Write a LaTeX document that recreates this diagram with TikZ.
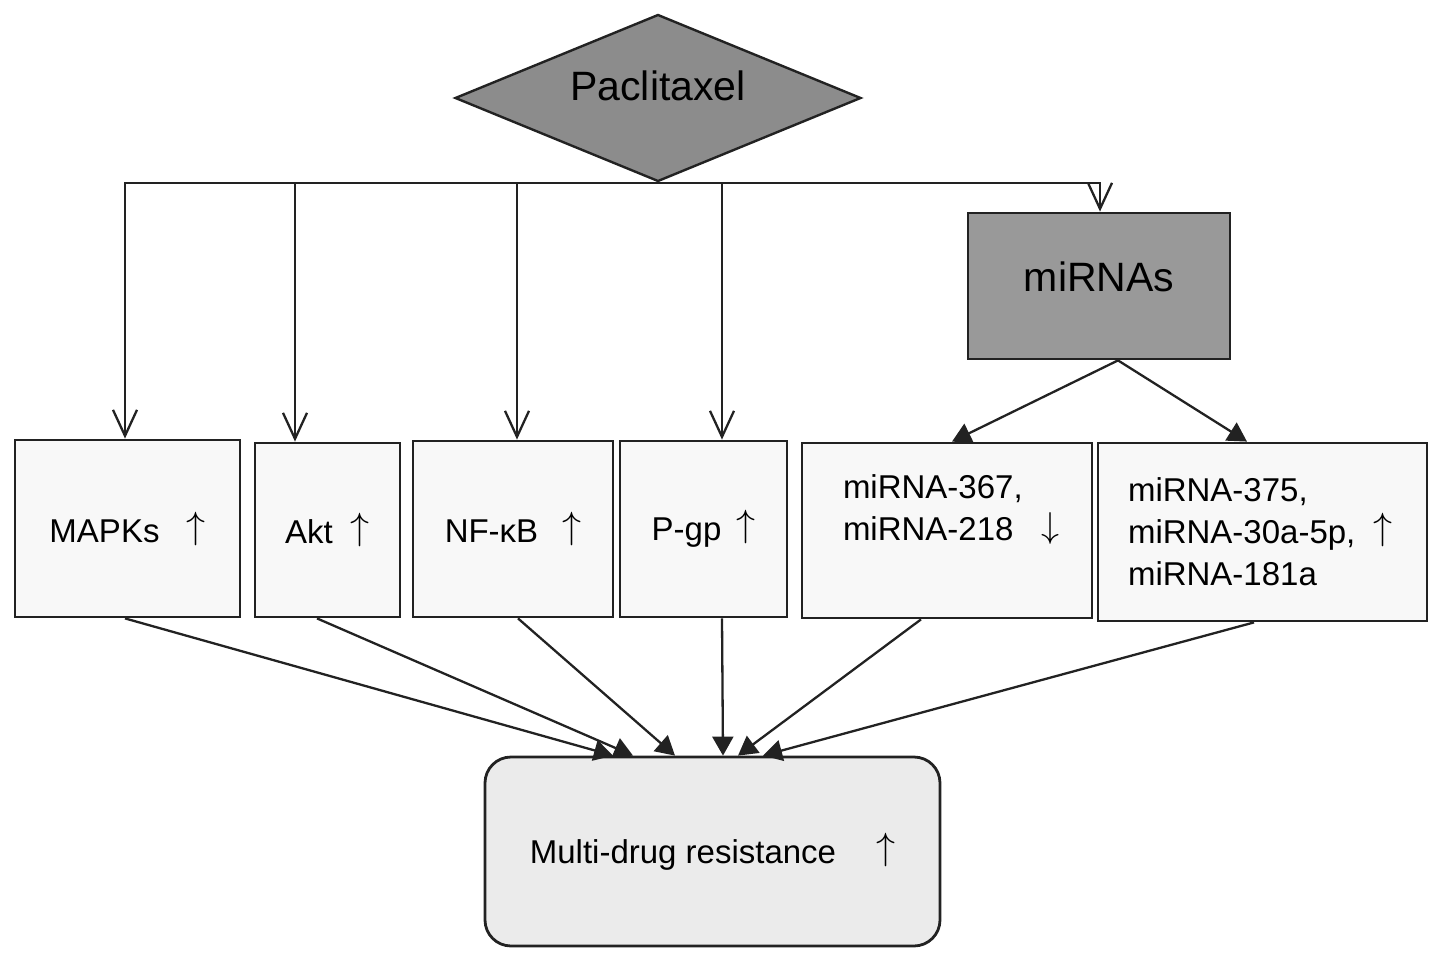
\RequirePackage{fix-cm}
\documentclass[tikz,border=0pt]{standalone}
\usepackage{fontspec}
\setmainfont{Liberation Sans}
\usetikzlibrary{shapes.geometric,arrows.meta}
\definecolor{edge}{HTML}{222222}
\definecolor{darkfill}{HTML}{8C8C8C}
\definecolor{midfill}{HTML}{999999}
\definecolor{lightfill}{HTML}{F8F8F8}
\definecolor{mdrfill}{HTML}{EBEBEB}
\newcommand\myup{\raisebox{4pt}{\fontsize{38}{38}\selectfont$\uparrow$}}
\newcommand\mydown{\raisebox{3pt}{\fontsize{36}{36}\selectfont$\downarrow$}}
\tikzset{
  bigtxt/.style={font=\fontsize{41}{49}\selectfont},
  boxtxt/.style={font=\fontsize{33}{42}\selectfont},
  lbox/.style={draw=edge, line width=2.8pt, fill=lightfill, rectangle, inner sep=0pt, boxtxt, align=left},
  openarr/.style={draw=edge, line width=2.3pt, -{Straight Barb[length=26pt,width=24pt]}},
  fillarr/.style={draw=edge, line width=2.3pt, -{Triangle[length=19pt,width=21pt]}},
}
\begin{document}
\begin{tikzpicture}[x=1pt,y=-1pt]
\useasboundingbox (0,0) rectangle (1441,961);
% top diamond
\node[diamond, aspect=2.431, draw=edge, line width=2.4pt, fill=darkfill, minimum width=406pt, minimum height=167pt, inner sep=0pt, bigtxt]
  (pac) at (658,98) {\raisebox{24pt}{Paclitaxel}};
% miRNAs box
\node[rectangle, draw=edge, line width=2.8pt, fill=midfill, minimum width=262pt, minimum height=146pt, inner sep=0pt, bigtxt]
  (mirnas) at (1099,286) {\raisebox{18pt}{miRNAs}};
% middle row
\node[lbox, minimum width=225pt, minimum height=177pt] (mapk) at (127.5,528.5) {MAPKs\hspace{27pt}\myup};
\node[lbox, minimum width=145pt, minimum height=174pt] (akt) at (327.5,530) {Akt\hspace{18pt}\myup};
\node[lbox, minimum width=200pt, minimum height=176pt] (nfkb) at (513,529) {NF-κB\hspace{24pt}\myup};
\node[lbox, minimum width=167pt, minimum height=176pt] (pgp) at (703.5,529) {P-gp\hspace{15pt}\myup};
\node[lbox, minimum width=290pt, minimum height=175pt, inner xsep=41pt, text width=208pt] (mirA) at (947,530.5)
  {miRNA-367,\\miRNA-218\rlap{\hspace{28pt}\mydown}\\[-8pt]\strut};
\node[lbox, minimum width=329pt, minimum height=178pt, inner xsep=30pt, text width=269pt] (mirB) at (1262.5,532)
  {miRNA-375,\\miRNA-30a-5p,\hspace{18pt}\myup\\miRNA-181a};
% bottom box
\node[rectangle, rounded corners=26pt, draw=edge, line width=2.8pt, fill=mdrfill, minimum width=455pt, minimum height=189pt, inner sep=0pt, boxtxt]
  (mdr) at (712.5,851.5) {Multi-drug resistance\hspace{40pt}\myup};
% connectors from paclitaxel
\draw[openarr] (pac.south) -| ([xshift=-2.5pt]mapk.north);
\draw[openarr] (pac.south) -| ([xshift=-32.5pt]akt.north);
\draw[openarr] (pac.south) -| ([xshift=4pt]nfkb.north);
\draw[openarr] (pac.south) -| ([xshift=18.5pt]pgp.north);
\draw[openarr] (pac.south) -| ([xshift=1pt]mirnas.north);
% miRNAs to sub boxes
\draw[fillarr] ([xshift=19pt]mirnas.south) -- ([xshift=5pt]mirA.north);
\draw[fillarr] ([xshift=19pt]mirnas.south) -- ([xshift=-15.5pt]mirB.north);
% to multi-drug resistance
\draw[fillarr] ([xshift=-2.5pt]mapk.south) -- ([xshift=-99.5pt]mdr.north);
\draw[fillarr] ([xshift=-10.5pt]akt.south) -- ([xshift=-79.5pt]mdr.north);
\draw[fillarr] ([xshift=5pt]nfkb.south) -- ([xshift=-37.5pt]mdr.north);
\draw[fillarr] ([xshift=18.5pt]pgp.south) -- ([xshift=10.5pt]mdr.north);
\draw[fillarr] ([xshift=-26pt]mirA.south) -- ([xshift=25.5pt]mdr.north);
\draw[fillarr] ([xshift=-8.5pt]mirB.south) -- ([xshift=50.5pt]mdr.north);
\end{tikzpicture}
\end{document}
